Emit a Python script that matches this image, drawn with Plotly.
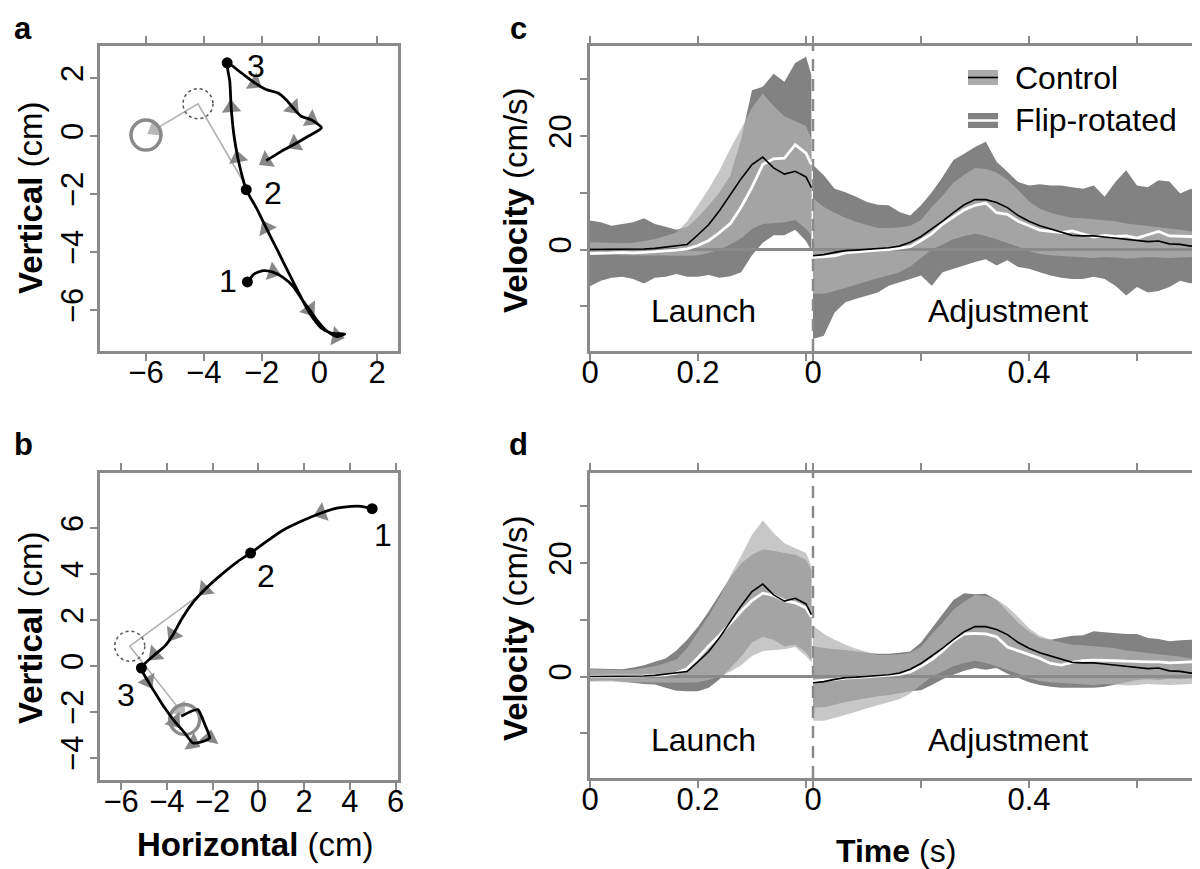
import math
import plotly.graph_objects as go

# ------------------------------------------------------------------ data
# Panel a trajectory (cm)
A_X = [-2.49, -2.26, -1.95, -1.61, -1.26, -0.91, -0.63, -0.34, -0.05, 0.24, 0.59, 0.88,
       0.41, 0.07, -0.34, -0.68, -1.03, -1.43, -1.84, -2.18, -2.41, -2.53, -2.67, -2.82,
       -2.96, -3.05, -3.10, -3.19, -2.70, -2.24, -1.84, -1.43, -1.15, -0.91, -0.63, -0.28,
       0.07, -0.39, -0.85, -1.32, -1.84]
A_Y = [-5.03, -4.76, -4.64, -4.69, -4.87, -5.18, -5.59, -5.99, -6.39, -6.71, -6.91, -6.83,
       -6.79, -6.62, -6.10, -5.47, -4.78, -3.98, -3.17, -2.48, -2.08, -1.85, -1.39, -0.76,
       0.05, 0.97, 1.89, 2.52, 2.17, 1.83, 1.60, 1.48, 1.25, 0.97, 0.68, 0.56,
       0.28, -0.01, -0.28, -0.53, -0.85]
A_KEY_IDX = [0, 21, 27]
A_KEY_LABELS = ["1", "2", "3"]
A_LABEL_X = [-3.16, -1.61, -2.19]
A_LABEL_Y = [-5.0, -1.97, 2.41]
A_ARROW_IDX = [3, 7, 10, 18, 23, 25, 29, 33, 35, 38, 40]
A_JUMP_X = [-2.64, -4.2, -5.7]
A_JUMP_Y = [-1.56, 1.11, 0.22]
A_TARGET = (-6.0, 0.03)
A_DOTTED = (-4.2, 1.11)

# Panel b trajectory (cm)
B_X = [4.97, 4.49, 4.06, 3.48, 2.75, 1.87, 1.00, 0.27, -0.34, -0.89, -1.62, -2.34, -2.93,
       -3.37, -3.73, -4.09, -4.53, -5.11, -4.82, -4.46, -4.09, -3.66, -3.22, -2.86, -2.49,
       -2.13, -2.34, -2.64, -2.93, -3.37]
B_Y = [6.84, 6.94, 6.94, 6.87, 6.65, 6.29, 5.86, 5.35, 4.91, 4.55, 3.97, 3.32, 2.67,
       2.01, 1.36, 0.86, 0.49, -0.09, -0.67, -1.25, -1.83, -2.41, -2.91, -3.35, -3.30,
       -3.13, -2.55, -1.90, -1.97, -2.19]
B_KEY_IDX = [0, 8, 17]
B_KEY_LABELS = ["1", "2", "3"]
B_LABEL_X = [5.44, 0.35, -5.77]
B_LABEL_Y = [5.71, 3.9, -1.25]
B_ARROW_IDX = [4, 11, 14, 16, 18, 21, 23, 25]
B_JUMP_X = [-2.20, -5.62, -3.44]
B_JUMP_Y = [3.36, 0.86, -1.90]
B_TARGET = (-3.22, -2.33)
B_DOTTED = (-5.62, 0.86)

# Velocity profiles (s, cm/s)
T_LAUNCH = [0.00, 0.02, 0.04, 0.06, 0.08, 0.10, 0.12, 0.14, 0.16, 0.18, 0.20, 0.22,
            0.24, 0.26, 0.28, 0.30, 0.32, 0.34, 0.36, 0.38, 0.40, 0.41]
T_ADJ = [0.00, 0.02, 0.04, 0.06, 0.08, 0.10, 0.12, 0.14, 0.16, 0.18, 0.20, 0.22, 0.24,
         0.26, 0.28, 0.30, 0.32, 0.34, 0.36, 0.38, 0.40, 0.42, 0.44, 0.46, 0.48, 0.50,
         0.52, 0.54, 0.56, 0.58, 0.60, 0.62, 0.64, 0.66, 0.68, 0.70, 0.712]

CTRL_MEAN_L = [0.0, 0.0, 0.0, 0.0, 0.0, 0.1, 0.2, 0.4, 0.6, 0.9, 2.6, 4.4, 6.9, 9.8,
               12.5, 15.0, 16.3, 14.4, 13.3, 13.8, 12.8, 10.9]
CTRL_UP_L = [1.3, 1.2, 1.1, 1.1, 1.2, 1.5, 1.8, 2.4, 3.0, 5.0, 7.8, 10.7, 14.0, 17.8,
             21.3, 25.0, 27.5, 25.3, 23.5, 22.7, 21.8, 19.5]
CTRL_LO_L = [-0.9, -0.9, -0.9, -1.0, -1.0, -1.0, -1.0, -1.1, -1.1, -1.1, -1.0, -0.6,
             0.0, 0.9, 2.0, 3.6, 4.5, 4.7, 4.8, 5.2, 3.6, 2.5]
CTRL_MEAN_A = [-1.1, -0.9, -0.5, -0.2, -0.1, 0.0, 0.1, 0.3, 0.6, 1.3, 2.3, 3.6, 5.0,
               6.5, 7.9, 8.8, 8.8, 8.3, 7.4, 6.0, 5.0, 4.2, 3.6, 3.1, 2.5, 2.4, 2.4,
               2.2, 2.0, 1.8, 1.5, 1.4, 1.5, 1.0, 0.9, 0.6, 0.6]
CTRL_UP_A = [9.0, 7.5, 6.5, 5.6, 4.9, 4.3, 3.8, 3.8, 3.9, 4.2, 5.2, 7.5, 9.5, 11.8,
             13.2, 14.4, 14.2, 13.6, 12.3, 10.5, 8.5, 7.2, 6.5, 6.0, 5.6, 5.5, 5.3,
             5.2, 5.0, 4.6, 4.4, 4.2, 4.0, 3.8, 3.5, 3.2, 3.1]
CTRL_LO_A = [-7.8, -7.8, -7.3, -6.8, -6.2, -5.6, -5.0, -4.5, -4.0, -3.0, -1.5, 0.0, 0.9,
             1.8, 2.4, 2.8, 2.4, 1.8, 1.2, 0.5, -0.3, -0.8, -1.0, -1.2, -1.3, -1.4,
             -1.5, -1.3, -1.4, -1.6, -1.5, -1.3, -1.4, -1.5, -1.4, -1.3, -1.4]

# Panel c: flip-rotated
FLIP_C_MEAN_L = [-0.7, -0.7, -0.6, -0.5, -0.6, -0.5, -0.4, -0.3, -0.1, 0.1, 0.7, 1.6,
                 3.0, 4.6, 7.5, 11.0, 15.0, 16.0, 16.1, 18.5, 17.0, 15.0]
FLIP_C_UP_L = [5.1, 4.8, 4.2, 4.5, 4.8, 5.5, 4.5, 4.0, 3.5, 4.0, 5.7, 7.8, 10.1, 13.1,
               19.5, 28.1, 28.7, 31.0, 29.6, 32.9, 34.0, 30.8]
FLIP_C_LO_L = [-6.5, -5.5, -5.0, -4.8, -5.2, -6.0, -5.0, -4.8, -4.3, -4.8, -4.8, -4.5,
               -5.0, -4.7, -4.0, -1.0, 1.2, 2.5, 2.5, 3.5, 1.5, -0.2]
FLIP_C_MEAN_A = [-1.4, -1.3, -1.1, -0.6, -0.4, -0.2, -0.1, 0.0, 0.2, 0.5, 1.6, 2.8, 4.5,
                 5.8, 7.0, 7.8, 8.2, 6.5, 6.2, 5.0, 4.2, 3.4, 3.2, 3.0, 3.3, 2.8, 2.2,
                 2.5, 2.3, 2.4, 2.0, 2.6, 3.2, 2.4, 2.3, 2.3, 2.3]
FLIP_C_UP_A = [14.9, 13.1, 10.7, 10.1, 9.3, 8.4, 7.9, 7.8, 6.6, 6.0, 7.8, 10.1, 12.8,
               15.8, 16.9, 18.1, 19.0, 15.5, 13.7, 11.9, 11.3, 11.5, 11.3, 11.3, 11.0,
               10.7, 11.3, 9.3, 11.9, 14.0, 11.3, 11.0, 12.2, 12.0, 9.9, 10.7, 10.1]
FLIP_C_LO_A = [-15.8, -15.2, -11.1, -9.3, -8.7, -8.1, -7.6, -6.4, -5.8, -5.2, -4.6, -6.4,
               -4.0, -3.4, -2.8, -2.2, -1.7, -2.8, -1.9, -3.1, -3.4, -4.0, -4.6, -5.0,
               -5.2, -5.2, -4.8, -5.2, -6.4, -8.1, -6.6, -7.6, -7.3, -6.6, -5.5, -6.0, -5.2]

# Panel d: flip-rotated
FLIP_D_MEAN_L = [0.0, 0.0, 0.0, 0.0, 0.0, 0.1, 0.2, 0.3, 0.6, 1.4, 3.3, 5.4, 7.3, 9.5,
                 11.5, 13.4, 14.7, 14.3, 13.4, 13.0, 12.1, 10.5]
FLIP_D_UP_L = [1.4, 1.4, 1.4, 1.3, 1.6, 2.0, 2.6, 3.2, 4.6, 6.5, 8.8, 11.5, 14.5, 17.5,
               20.0, 21.5, 22.4, 22.2, 21.8, 21.5, 20.6, 18.8]
FLIP_D_LO_L = [-0.8, -0.7, -0.7, -0.9, -1.1, -1.3, -1.4, -2.0, -2.5, -2.6, -2.6, -2.0,
               -0.5, 1.5, 3.5, 6.0, 7.0, 6.5, 5.3, 5.6, 4.3, 2.8]
FLIP_D_MEAN_A = [-0.8, -0.7, -0.5, -0.3, -0.2, -0.1, 0.0, 0.2, 0.4, 0.8, 1.8, 3.0, 4.5,
                 6.3, 7.5, 7.6, 7.5, 7.0, 5.2, 4.5, 3.8, 3.2, 2.3, 2.0, 2.5, 2.8, 2.9,
                 2.9, 2.8, 2.7, 2.6, 2.6, 2.6, 2.4, 2.5, 2.6, 2.6]
FLIP_D_UP_A = [5.3, 5.0, 4.8, 4.7, 4.4, 4.2, 4.0, 4.0, 4.2, 4.4, 6.0, 8.5, 11.0, 13.5,
               14.7, 14.5, 14.6, 13.5, 11.5, 9.5, 8.0, 6.8, 6.5, 6.8, 7.2, 7.3, 8.0, 7.8,
               7.6, 7.5, 7.5, 6.8, 6.6, 6.2, 6.4, 6.5, 6.5]
FLIP_D_LO_A = [-5.5, -5.4, -5.0, -4.5, -4.1, -3.8, -3.5, -3.3, -3.0, -2.6, -2.4, -1.5,
               -0.5, 0.3, 1.0, 1.5, 1.2, 1.5, 0.5, -0.3, -1.0, -1.5, -1.8, -2.0, -2.0,
               -2.0, -2.0, -1.8, -1.5, -1.0, -0.6, -0.5, -0.6, -0.4, -0.5, -0.4, -0.5]

LAUNCH_TICKS = [0.0, 0.2, 0.4]
LAUNCH_TICK_LABELS = ["0", "0.2", ""]
ADJ_TICKS = [0.0, 0.2, 0.4, 0.6]
ADJ_TICK_LABELS = ["0", "", "0.4", ""]
VEL_TICKS = [-10, 0, 10, 20, 30]
VEL_TICK_LABELS = ["", "0", "", "20", ""]
A_XTICKS = [-6, -4, -2, 0, 2]
A_YTICKS = [-6, -4, -2, 0, 2]
B_XTICKS = [-6, -4, -2, 0, 2, 4, 6]
B_YTICKS = [-4, -2, 0, 2, 4, 6]
LEGEND_NAMES = ["Control", "Flip-rotated"]

# ------------------------------------------------------------------ style
W, H = 1200, 869
FONT = "Liberation Sans, Arial, Helvetica, sans-serif"
AX_GRAY = "#8a8a8a"
FLIP_FILL = "#828282"
CTRL_FILL = "rgba(178,178,178,0.72)"
ADJ_OFFSET = 0.413
VEL_XRANGE = [0.0, 1.126]
VEL_YRANGE = [-17.9, 35.9]
A_XRANGE = [-7.59, 2.72]
A_YRANGE = [-7.41, 3.10]
B_XRANGE = [-6.92, 6.10]
B_YRANGE = [-4.96, 8.39]


def px_x(p):
    return p / W


def px_y(p):
    return 1 - p / H


fig = go.Figure()


def arrow_angles(xs, ys, idxs):
    out = []
    n = len(xs)
    for i in idxs:
        j0, j1 = max(i - 1, 0), min(i + 1, n - 1)
        dx, dy = xs[j1] - xs[j0], ys[j1] - ys[j0]
        out.append(math.degrees(math.atan2(dx, dy)))
    return out


def add_trajectory(xs, ys, key_idx, labels, lab_x, lab_y, arrow_idx, jx, jy,
                   target, dotted, radius, xa, ya):
    # jump line (light gray)
    fig.add_trace(go.Scatter(x=jx, y=jy, mode="lines", xaxis=xa, yaxis=ya,
                             line=dict(color="#b0b0b0", width=1.6), hoverinfo="skip"))
    ang = arrow_angles(jx, jy, [len(jx) - 1])
    fig.add_trace(go.Scatter(x=[jx[-1]], y=[jy[-1]], mode="markers", xaxis=xa, yaxis=ya,
                             marker=dict(symbol="triangle-up", size=17, color="#b8b8b8",
                                         angle=ang, line=dict(width=0)), hoverinfo="skip"))
    # target circle
    fig.add_trace(go.Scatter(x=[target[0]], y=[target[1]], mode="markers", xaxis=xa, yaxis=ya,
                             marker=dict(symbol="circle-open", size=30, color=AX_GRAY,
                                         line=dict(width=3.5, color=AX_GRAY)),
                             hoverinfo="skip"))
    # dotted circle (start of jump)
    fig.add_shape(type="circle", xref=xa, yref=ya,
                  x0=dotted[0] - radius[0], x1=dotted[0] + radius[0],
                  y0=dotted[1] - radius[1], y1=dotted[1] + radius[1],
                  line=dict(color="#555555", width=1.5, dash="dot"))
    # direction arrows
    fig.add_trace(go.Scatter(x=[xs[i] for i in arrow_idx], y=[ys[i] for i in arrow_idx],
                             mode="markers", xaxis=xa, yaxis=ya,
                             marker=dict(symbol="triangle-up", size=17, color="#888888",
                                         angle=arrow_angles(xs, ys, arrow_idx),
                                         line=dict(width=0)), hoverinfo="skip"))
    # path
    fig.add_trace(go.Scatter(x=xs, y=ys, mode="lines", xaxis=xa, yaxis=ya,
                             line=dict(color="black", width=2.8, shape="spline", smoothing=0.6),
                             hoverinfo="skip"))
    fig.add_trace(go.Scatter(x=[xs[i] for i in key_idx], y=[ys[i] for i in key_idx],
                             mode="markers", xaxis=xa, yaxis=ya,
                             marker=dict(size=11, color="black"), hoverinfo="skip"))
    for lx, ly, t in zip(lab_x, lab_y, labels):
        fig.add_annotation(x=lx, y=ly, xref=xa, yref=ya, text=t, showarrow=False,
                           font=dict(size=32, color="black", family=FONT))


add_trajectory(A_X, A_Y, A_KEY_IDX, A_KEY_LABELS, A_LABEL_X, A_LABEL_Y, A_ARROW_IDX,
               A_JUMP_X, A_JUMP_Y, A_TARGET, A_DOTTED, (15 / 28.9, 15 / 29.0), "x", "y")
add_trajectory(B_X, B_Y, B_KEY_IDX, B_KEY_LABELS, B_LABEL_X, B_LABEL_Y, B_ARROW_IDX,
               B_JUMP_X, B_JUMP_Y, B_TARGET, B_DOTTED, (15 / 22.9, 15 / 23.0), "x2", "y2")


def band(xs, up, lo, color, xa, ya):
    fig.add_trace(go.Scatter(x=list(xs) + list(xs)[::-1], y=list(up) + list(lo)[::-1],
                             mode="lines", fill="toself", fillcolor=color,
                             line=dict(width=0, color=color), xaxis=xa, yaxis=ya,
                             hoverinfo="skip"))


def add_velocity(flip_l, flip_a, ctrl_l, ctrl_a, xa, ya):
    xl = T_LAUNCH
    xad = [ADJ_OFFSET + s for s in T_ADJ]
    band(xl, flip_l[1], flip_l[2], FLIP_FILL, xa, ya)
    band(xad, flip_a[1], flip_a[2], FLIP_FILL, xa, ya)
    band(xl, ctrl_l[1], ctrl_l[2], CTRL_FILL, xa, ya)
    band(xad, ctrl_a[1], ctrl_a[2], CTRL_FILL, xa, ya)
    # zero line
    fig.add_trace(go.Scatter(x=VEL_XRANGE, y=[0, 0], mode="lines", xaxis=xa, yaxis=ya,
                             line=dict(color=AX_GRAY, width=3), hoverinfo="skip"))
    # dashed separator
    fig.add_trace(go.Scatter(x=[ADJ_OFFSET, ADJ_OFFSET], y=VEL_YRANGE, mode="lines",
                             xaxis=xa, yaxis=ya,
                             line=dict(color=AX_GRAY, width=2.5, dash="12px,8px"),
                             hoverinfo="skip"))
    for xs, fm, cm in ((xl, flip_l[0], ctrl_l[0]), (xad, flip_a[0], ctrl_a[0])):
        fig.add_trace(go.Scatter(x=xs, y=fm, mode="lines", xaxis=xa, yaxis=ya,
                                 line=dict(color="white", width=2.8), hoverinfo="skip"))
        fig.add_trace(go.Scatter(x=xs, y=cm, mode="lines", xaxis=xa, yaxis=ya,
                                 line=dict(color="black", width=1.6), hoverinfo="skip"))


CTRL_L = (CTRL_MEAN_L, CTRL_UP_L, CTRL_LO_L)
CTRL_A = (CTRL_MEAN_A, CTRL_UP_A, CTRL_LO_A)
add_velocity((FLIP_C_MEAN_L, FLIP_C_UP_L, FLIP_C_LO_L),
             (FLIP_C_MEAN_A, FLIP_C_UP_A, FLIP_C_LO_A), CTRL_L, CTRL_A, "x3", "y3")
add_velocity((FLIP_D_MEAN_L, FLIP_D_UP_L, FLIP_D_LO_L),
             (FLIP_D_MEAN_A, FLIP_D_UP_A, FLIP_D_LO_A), CTRL_L, CTRL_A, "x4", "y4")

# ------------------------------------------------------------------ axes
tickfont = dict(size=31, color="black", family=FONT)
common = dict(showgrid=False, zeroline=False, showline=True, linecolor=AX_GRAY,
              linewidth=3, ticks="outside", ticklen=7, tickwidth=2, tickcolor=AX_GRAY,
              tickfont=tickfont, automargin=False, fixedrange=True)

vel_xticks = LAUNCH_TICKS + [ADJ_OFFSET + s for s in ADJ_TICKS]
vel_xlabels = LAUNCH_TICK_LABELS + ADJ_TICK_LABELS

dom_x_left = [px_x(92), px_x(390)]
dom_x_right = [px_x(582), px_x(1190)]
dom_y_top = [px_y(343), px_y(38)]
dom_y_bot_traj = [px_y(772), px_y(465)]
dom_y_bot_vel = [px_y(770), px_y(465)]

XSTAND = -15
YSTAND_TRAJ = -5
fig.update_layout(
    xaxis=dict(common, domain=dom_x_left, range=A_XRANGE, anchor="y", mirror="ticks",
               tickvals=A_XTICKS, ticklabelstandoff=XSTAND),
    yaxis=dict(common, domain=dom_y_top, range=A_YRANGE, anchor="x", mirror=True,
               tickvals=A_YTICKS, tickangle=-90, ticklabelstandoff=YSTAND_TRAJ),
    xaxis2=dict(common, domain=dom_x_left, range=B_XRANGE, anchor="y2", mirror="ticks",
                tickvals=B_XTICKS, ticklabelstandoff=XSTAND),
    yaxis2=dict(common, domain=dom_y_bot_traj, range=B_YRANGE, anchor="x2", mirror=True,
                tickvals=B_YTICKS, tickangle=-90, ticklabelstandoff=YSTAND_TRAJ),
    xaxis3=dict(common, domain=dom_x_right, range=VEL_XRANGE, anchor="y3", mirror="ticks",
                tickvals=vel_xticks, ticktext=vel_xlabels, ticklabelstandoff=XSTAND),
    yaxis3=dict(common, domain=dom_y_top, range=VEL_YRANGE, anchor="x3", mirror="ticks",
                tickvals=VEL_TICKS, ticktext=VEL_TICK_LABELS, tickangle=-90,
                ticklabelstandoff=-3),
    xaxis4=dict(common, domain=dom_x_right, range=VEL_XRANGE, anchor="y4", mirror="ticks",
                tickvals=vel_xticks, ticktext=vel_xlabels, ticklabelstandoff=XSTAND),
    yaxis4=dict(common, domain=dom_y_bot_vel, range=VEL_YRANGE, anchor="x4", mirror="ticks",
                tickvals=VEL_TICKS, ticktext=VEL_TICK_LABELS, tickangle=-90,
                ticklabelstandoff=-3),
    width=W, height=H, margin=dict(l=0, r=0, t=0, b=0),
    paper_bgcolor="white", plot_bgcolor="white", showlegend=False,
    font=dict(family=FONT, color="black"),
)

# ------------------------------------------------------------------ text
def ann(text, x, y, size=32, angle=0, xanchor="center", yanchor="middle", bold=False):
    fig.add_annotation(text=(f"<b>{text}</b>" if bold else text), x=px_x(x), y=px_y(y),
                       xref="paper", yref="paper", showarrow=False, textangle=angle,
                       xanchor=xanchor, yanchor=yanchor,
                       font=dict(size=size, color="black", family=FONT))


for letter, (lx, ly) in zip("abcd", [(15, 20), (15, 436), (510, 20), (510, 436)]):
    ann(letter, lx, ly, size=31, bold=True)

ann("<b>Vertical</b> (cm)", 22, 190, size=33, angle=-90)
ann("<b>Vertical</b> (cm)", 22, 620, size=33, angle=-90)
ann("<b>Velocity</b> (cm/s)", 507, 192, size=33, angle=-90)
ann("<b>Velocity</b> (cm/s)", 507, 620, size=33, angle=-90)
ann("<b>Horizontal</b> (cm)", 247, 836, size=33)
ann("<b>Time</b> (s)", 888, 843, size=32)

for yy in (303, 732):
    ann("Launch", 695, yy)
    ann("Adjustment", 1000, yy)

# legend (manual)
LEG_ROWS = [69.5, 112.5]
fig.add_shape(type="rect", xref="paper", yref="paper", x0=px_x(960), x1=px_x(990),
              y0=px_y(LEG_ROWS[0] + 7.5), y1=px_y(LEG_ROWS[0] - 7.5),
              fillcolor="#ababab", line=dict(width=0))
fig.add_shape(type="line", xref="paper", yref="paper", x0=px_x(960), x1=px_x(990),
              y0=px_y(LEG_ROWS[0]), y1=px_y(LEG_ROWS[0]), line=dict(color="black", width=1.6))
fig.add_shape(type="rect", xref="paper", yref="paper", x0=px_x(960), x1=px_x(990),
              y0=px_y(LEG_ROWS[1] + 7.5), y1=px_y(LEG_ROWS[1] - 7.5),
              fillcolor=FLIP_FILL, line=dict(width=0))
fig.add_shape(type="line", xref="paper", yref="paper", x0=px_x(960), x1=px_x(990),
              y0=px_y(LEG_ROWS[1]), y1=px_y(LEG_ROWS[1]), line=dict(color="white", width=2.5))
for name, yy in zip(LEGEND_NAMES, LEG_ROWS):
    ann(name, 1005, yy, xanchor="left")

fig.write_html("out.html")
